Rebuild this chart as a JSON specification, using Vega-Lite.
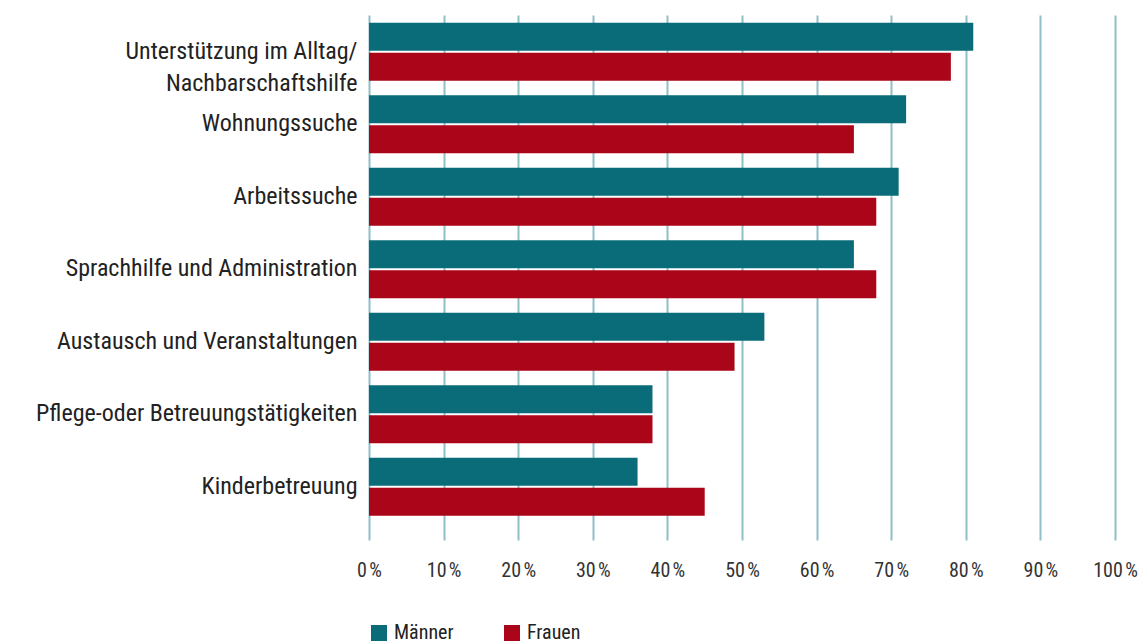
{
  "$schema": "https://vega.github.io/schema/vega-lite/v6.json",
  "width": 746,
  "height": 525,
  "autosize": {"type": "none"},
  "padding": {"left": 369, "top": 15, "right": 27, "bottom": 104},
  "background": "white",
  "config": {
    "view": {"stroke": null},
    "font": "Liberation Sans Narrow, Roboto Condensed, DejaVu Sans Condensed, sans-serif"
  },
  "data": {
    "values": [
      {"kat": "Unterstützung im Alltag/|Nachbarschaftshilfe", "gruppe": "Männer", "wert": 81},
      {"kat": "Unterstützung im Alltag/|Nachbarschaftshilfe", "gruppe": "Frauen", "wert": 78},
      {"kat": "Wohnungssuche", "gruppe": "Männer", "wert": 72},
      {"kat": "Wohnungssuche", "gruppe": "Frauen", "wert": 65},
      {"kat": "Arbeitssuche", "gruppe": "Männer", "wert": 71},
      {"kat": "Arbeitssuche", "gruppe": "Frauen", "wert": 68},
      {"kat": "Sprachhilfe und Administration\u2002", "gruppe": "Männer", "wert": 65},
      {"kat": "Sprachhilfe und Administration\u2002", "gruppe": "Frauen", "wert": 68},
      {"kat": "Austausch und Veranstaltungen", "gruppe": "Männer", "wert": 53},
      {"kat": "Austausch und Veranstaltungen", "gruppe": "Frauen", "wert": 49},
      {"kat": "Pflege-oder Betreuungstätigkeiten\u2002", "gruppe": "Männer", "wert": 38},
      {"kat": "Pflege-oder Betreuungstätigkeiten\u2002", "gruppe": "Frauen", "wert": 38},
      {"kat": "Kinderbetreuung", "gruppe": "Männer", "wert": 36},
      {"kat": "Kinderbetreuung", "gruppe": "Frauen", "wert": 45}
    ]
  },
  "mark": {"type": "bar"},
  "encoding": {
    "y": {
      "field": "kat",
      "type": "nominal",
      "sort": null,
      "scale": {"paddingInner": 0.2, "paddingOuter": 0.22, "align": 0.24},
      "axis": {
        "title": null,
        "domain": false,
        "ticks": false,
        "labelPadding": 12,
        "labelFontSize": 24,
        "labelColor": "#222222",
        "labelLineHeight": 32,
        "labelLimit": 400,
        "labelExpr": "split(datum.label, '|')"
      }
    },
    "yOffset": {
      "field": "gruppe",
      "type": "nominal",
      "sort": ["Männer", "Frauen"],
      "scale": {"paddingInner": 0.0667, "paddingOuter": 0}
    },
    "x": {
      "field": "wert",
      "type": "quantitative",
      "scale": {"domain": [0, 100], "nice": false},
      "axis": {
        "title": null,
        "values": [0, 10, 20, 30, 40, 50, 60, 70, 80, 90, 100],
        "labelExpr": "datum.value + '\u202f%'",
        "domain": false,
        "ticks": false,
        "grid": true,
        "gridColor": "#8fbfc7",
        "gridWidth": 2,
        "labelFontSize": 20,
        "labelColor": "#333333",
        "labelPadding": 20,
        "labelFlush": false
      }
    },
    "color": {
      "field": "gruppe",
      "type": "nominal",
      "scale": {"domain": ["Männer", "Frauen"], "range": ["#0a6c79", "#ab0519"]},
      "legend": {
        "title": null,
        "orient": "none",
        "direction": "horizontal",
        "legendX": 0,
        "legendY": 608,
        "symbolType": "square",
        "symbolSize": 256,
        "symbolStrokeWidth": 0,
        "symbolOpacity": 1,
        "labelFontSize": 20,
        "labelColor": "#222222",
        "labelOffset": 5,
        "columnPadding": 48
      }
    }
  }
}
